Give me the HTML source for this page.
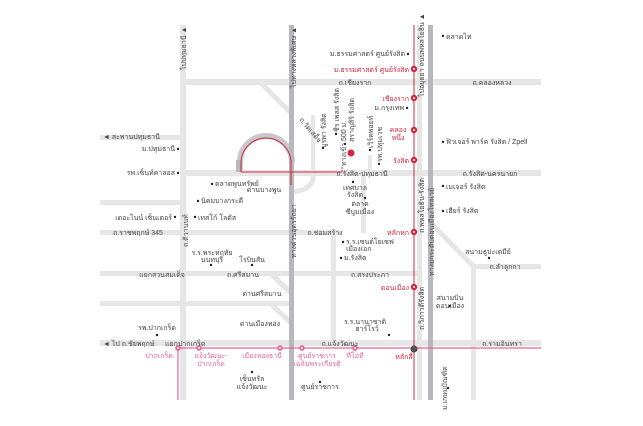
<!DOCTYPE html>
<html><head><meta charset="utf-8"><style>
html,body{margin:0;padding:0;background:#fff;width:643px;height:426px;overflow:hidden}
svg{display:block}
text{font-family:"Liberation Sans","DejaVu Sans",sans-serif;font-size:7px;fill:#444}
.r{fill:#d3263f}.p{fill:#e5649a}
</style></head><body>
<svg width="643" height="426" viewBox="0 0 643 426">
<g fill="#e6e6e7">
<rect x="180" y="25" width="6" height="375"/>
<rect x="183" y="79" width="358" height="6"/>
<rect x="183" y="170" width="358" height="6"/>
<rect x="100" y="135" width="83" height="5"/>
<rect x="100" y="200" width="83" height="5"/>
<rect x="100" y="230" width="240" height="5"/>
<rect x="100" y="271" width="320" height="5"/>
<rect x="100" y="301" width="190" height="5"/>
<rect x="100" y="340" width="441" height="6"/>
<rect x="417" y="25" width="5" height="375"/>
<rect x="331" y="232" width="5" height="110"/>
<rect x="361" y="175" width="5" height="58"/>
<rect x="311" y="115" width="4" height="57"/>
<rect x="368" y="155" width="4" height="17"/>
<rect x="471" y="264" width="5" height="136"/>
<rect x="473" y="264" width="68" height="5"/>
</g>
<g stroke="#e6e6e7" stroke-width="5" fill="none">
<line x1="260" y1="82" x2="291" y2="113"/>
<line x1="272" y1="275" x2="291" y2="293"/>
<line x1="272" y1="305" x2="291" y2="323"/>
<line x1="430" y1="222" x2="473" y2="266"/>
<path d="M313 176 Q313 190 292 192"/>
</g>
<path d="M240 170 L240 162 A26 26 0 0 1 292 162" stroke="#c9c9cc" stroke-width="6" fill="none"/>
<rect x="236" y="160" width="6" height="12" fill="#b8b8bc"/>
<rect x="289" y="25" width="5" height="375" fill="#b8b8bc"/>
<rect x="428" y="25" width="5" height="375" fill="#b8b8bc"/>
<g stroke="#d3263f" stroke-width="1" fill="none">
<path d="M241 172 L241 163 A25 25 0 0 1 291 163 L291 185"/>
<line x1="241" y1="172" x2="342" y2="172"/>
<line x1="342" y1="172" x2="342" y2="166" stroke-dasharray="2 1"/>
<line x1="414" y1="25" x2="414" y2="400"/>
</g>
<g stroke="#e5649a" stroke-width="1.2">
<line x1="178" y1="348" x2="541" y2="348"/>
<line x1="178" y1="348" x2="178" y2="400"/>
</g>
<circle cx="351" cy="153" r="3.5" fill="#d3263f"/>
<g fill="#d3263f" stroke="#d3263f" stroke-width="0.8">
<circle cx="414" cy="69" r="2.8"/><circle cx="414" cy="98" r="2.8"/><circle cx="414" cy="130" r="2.8"/><circle cx="414" cy="160" r="2.8"/><circle cx="414" cy="232" r="2.8"/><circle cx="414" cy="287" r="2.8"/>
</g>
<g fill="#fff">
<circle cx="414" cy="69" r="1"/><circle cx="414" cy="98" r="1"/><circle cx="414" cy="130" r="1"/><circle cx="414" cy="160" r="1"/><circle cx="414" cy="232" r="1"/><circle cx="414" cy="287" r="1"/>
</g>
<circle cx="414" cy="349" r="3" fill="#555" stroke="#444" stroke-width="1"/>
<g fill="#e5649a">
<circle cx="178" cy="348" r="2.8"/><circle cx="199" cy="348" r="2.8"/><circle cx="280" cy="348" r="2.8"/><circle cx="302" cy="348" r="2.8"/><circle cx="355" cy="348" r="2.8"/>
</g>
<g fill="#fff">
<circle cx="178" cy="348" r="1"/><circle cx="199" cy="348" r="1"/><circle cx="280" cy="348" r="1"/><circle cx="302" cy="348" r="1"/><circle cx="355" cy="348" r="1"/>
</g>
<g fill="#222">
<circle cx="178" cy="149" r="1.2"/><circle cx="178" cy="173" r="1.2"/><circle cx="212" cy="184" r="1.2"/><circle cx="198" cy="201" r="1.2"/><circle cx="175" cy="217" r="1.2"/><circle cx="195" cy="217" r="1.2"/>
<circle cx="211" cy="265" r="1.2"/><circle cx="252" cy="265" r="1.2"/><circle cx="157" cy="335" r="1.2"/><circle cx="252" cy="372" r="1.2"/><circle cx="320" cy="382" r="1.2"/>
<circle cx="389" cy="335" r="1.2"/><circle cx="448" cy="388" r="1.2"/><circle cx="450" cy="306" r="1.2"/><circle cx="489" cy="258" r="1.2"/>
<circle cx="343" cy="242" r="1.2"/><circle cx="341" cy="258" r="1.2"/><circle cx="353" cy="182" r="1.2"/><circle cx="365" cy="198" r="1.2"/>
<circle cx="443" cy="186" r="1.2"/><circle cx="443" cy="211" r="1.2"/><circle cx="443" cy="142" r="1.2"/><circle cx="443" cy="36" r="1.2"/>
<circle cx="408" cy="54" r="1.2"/><circle cx="407" cy="108" r="1.2"/><circle cx="323" cy="148" r="1.2"/><circle cx="336" cy="134" r="1.2"/><circle cx="345" cy="144" r="1.2"/><circle cx="370" cy="150" r="1.2"/><circle cx="379" cy="164" r="1.2"/>
</g>
<text x="103" y="139">◄ สะพานปทุมธานี</text>
<text x="175" y="151" text-anchor="end">ม.ปทุมธานี</text>
<text x="175" y="175" text-anchor="end">รพ.เซ็นท์คาลอส</text>
<text x="215" y="186">ตลาดพูนทรัพย์</text>
<text x="201" y="203">นิคมบางกระดี</text>
<text x="172" y="220" text-anchor="end">เดอะไนน์ เซ็นเตอร์</text>
<text x="198" y="220">เทสโก้ โลตัส</text>
<text x="113" y="235">ถ.ราชพฤกษ์ 345</text>
<text x="212" y="255" text-anchor="middle">ร.ร.พระหฤทัย</text>
<text x="212" y="262" text-anchor="middle">นนทบุรี</text>
<text x="252" y="262" text-anchor="middle">โรบินสัน</text>
<text x="162" y="277" text-anchor="middle">แยกสวนสมเด็จ</text>
<text x="243" y="277" text-anchor="middle">ถ.ศรีสมาน</text>
<text x="262" y="296" text-anchor="middle">ด่านศรีสมาน</text>
<text x="260" y="326" text-anchor="middle">ด่านเมืองทอง</text>
<text x="157" y="330" text-anchor="middle">รพ.ปากเกร็ด</text>
<text x="103" y="346">◄ ไป ถ.ชัยพฤกษ์</text>
<text x="165" y="346">แยกปากเกร็ด</text>
<text x="340" y="346" text-anchor="middle">ถ.แจ้งวัฒนะ</text>
<text x="502" y="346" text-anchor="middle">ถ.รามอินทรา</text>
<text class="p" x="159" y="358" text-anchor="middle">ปากเกร็ด</text>
<text class="p" x="211" y="358" text-anchor="middle">แจ้งวัฒนะ-</text>
<text class="p" x="211" y="366" text-anchor="middle">ปากเกร็ด</text>
<text class="p" x="262" y="358" text-anchor="middle">เมืองทองธานี</text>
<text class="p" x="317" y="358" text-anchor="middle">ศูนย์ราชการ</text>
<text class="p" x="317" y="366" text-anchor="middle">เฉลิมพระเกียรติ</text>
<text class="p" x="355" y="358" text-anchor="middle">ทีโอที</text>
<text class="r" x="404" y="359" text-anchor="middle">หลักสี่</text>
<text x="252" y="381" text-anchor="middle">เซ็นทรัล</text>
<text x="252" y="389" text-anchor="middle">แจ้งวัฒนะ</text>
<text x="320" y="389" text-anchor="middle">ศูนย์ราชการ</text>
<text x="365" y="324" text-anchor="middle">ร.ร.นานาชาติ</text>
<text x="367" y="331" text-anchor="middle">ฮาร์โรว์</text>
<text x="450" y="300" text-anchor="middle">สนามบิน</text>
<text x="450" y="308" text-anchor="middle">ดอนเมือง</text>
<text x="488" y="254" text-anchor="middle">สนามธูปะเตมีย์</text>
<text x="505" y="269" text-anchor="middle">ถ.ลำลูกกา</text>
<text class="r" x="409" y="290" text-anchor="end">ดอนเมือง</text>
<text x="370" y="277" text-anchor="middle">ถ.สรงประภา</text>
<text x="346" y="244">ร.ร.เซนต์โยเซฟ</text>
<text x="346" y="251">เมืองเอก</text>
<text x="344" y="260">ม.รังสิต</text>
<text class="r" x="409" y="235" text-anchor="end">หลักหก</text>
<text x="325" y="235" text-anchor="middle">ถ.ช่อมสร้าง</text>
<text x="355" y="190" text-anchor="middle">เทศบาล</text>
<text x="355" y="197" text-anchor="middle">รังสิต</text>
<text x="360" y="206" text-anchor="middle">ตลาด</text>
<text x="360" y="214" text-anchor="middle">ซีบูมเมือง</text>
<text x="362" y="176" text-anchor="middle">ถ.รังสิต-ปทุมธานี</text>
<text x="490" y="176" text-anchor="middle">ถ.รังสิต-นครนายก</text>
<text x="446" y="189">เมเจอร์ รังสิต</text>
<text x="446" y="213">เฮียร์ รังสิต</text>
<text x="446" y="144">ฟิวเจอร์ พาร์ค รังสิต / Zpell</text>
<text x="446" y="39">ตลาดไท</text>
<text x="405" y="56" text-anchor="end">ม.ธรรมศาสตร์ ศูนย์รังสิต</text>
<text class="r" x="409" y="72" text-anchor="end">ม.ธรรมศาสตร์ ศูนย์รังสิต</text>
<text x="355" y="85" text-anchor="middle">ถ.เชียงราก</text>
<text x="492" y="85" text-anchor="middle">ถ.คลองหลวง</text>
<text class="r" x="409" y="101" text-anchor="end">เชียงราก</text>
<text x="404" y="110" text-anchor="end">ม.กรุงเทพ</text>
<text class="r" x="398" y="132" text-anchor="middle">คลอง</text>
<text class="r" x="398" y="140" text-anchor="middle">หนึ่ง</text>
<text class="r" x="409" y="163" text-anchor="end">รังสิต</text>
<text x="264" y="192" text-anchor="middle">ด่านบางพูน</text>
<g>
<text transform="translate(186,70) rotate(-90)">ไปปทุมธานี ▲</text>
<text transform="translate(296,88) rotate(-90)">ไปทางหลวงพิเศษ ▲</text>
<text transform="translate(424,97) rotate(-90)">ไปอยุธยา ถนนพหลโยธิน ▲</text>
<text transform="translate(424,233) rotate(-90)">ถ.พหลโยธิน-รังสิต</text>
<text transform="translate(424,330) rotate(-90)">ถ.วิภาวดีรังสิต</text>
<text transform="translate(434,276) rotate(-90)">ทางยกระดับดอนเมืองโทลเวย์</text>
<text transform="translate(296,258) rotate(-90)">ทางด่วนอุดรรัถยา</text>
<text transform="translate(188,247) rotate(-90)">ถ.ติวานนท์</text>
<text transform="translate(447,410) rotate(-90)">ม.เกษมบัณฑิต</text>
<text transform="translate(299,120) rotate(50)">ถ.วัดเสด็จ</text>
<text transform="translate(326,148) rotate(-90)">บูรพา รังสิต</text>
<text transform="translate(339,132) rotate(-90)">ชีร เพลส รังสิต</text>
<text transform="translate(346,166) rotate(-90)">ทางเข้า 500 ม.</text>
<text transform="translate(354,142) rotate(-90)">สราญสิริ รังสิต</text>
<text transform="translate(373,148) rotate(-90)">เวิร์คพอยท์</text>
<text transform="translate(382,162) rotate(-90)">รพ.ปทุมเวช</text>
</g>
</svg>
</body></html>
